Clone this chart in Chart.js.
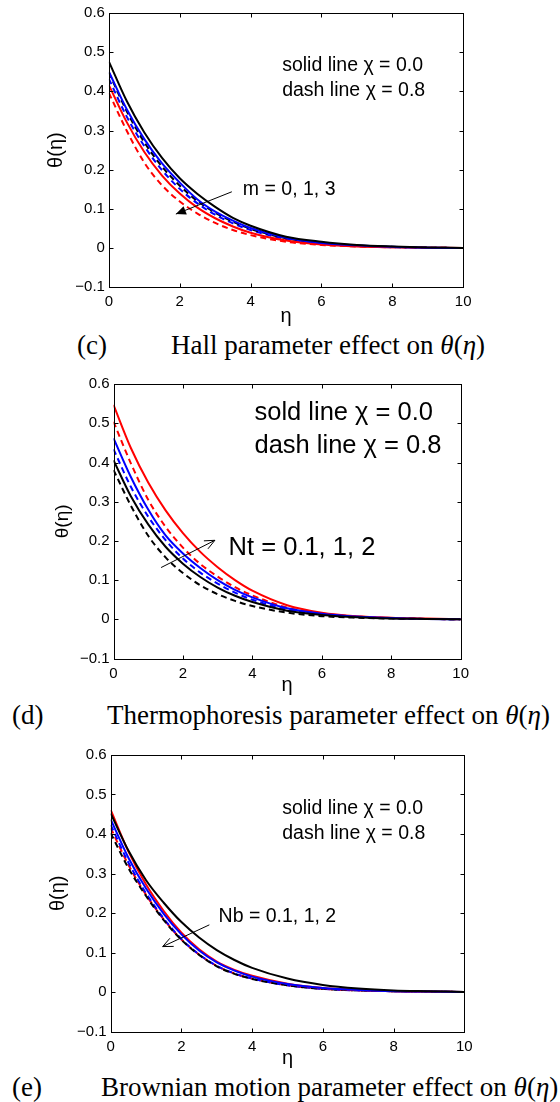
<!DOCTYPE html>
<html>
<head>
<meta charset="utf-8">
<script src="https://cdn.jsdelivr.net/npm/chart.js@4.4.1/dist/chart.umd.min.js"></script>
<style>
  html, body { margin: 0; padding: 0; background: #fff; }
  #page { position: relative; width: 560px; height: 1102px; overflow: hidden; }
  canvas { position: absolute; left: 0; }
  .cap { position: absolute; font-family: "Liberation Serif", "Times New Roman", serif; font-size: 27px; line-height: 30px; white-space: nowrap; color: #000; }
</style>
</head>
<body>
<div id="page">
  <canvas id="chartC" width="560" height="330" style="top:0px"></canvas>
  <canvas id="chartD" width="560" height="330" style="top:370px"></canvas>
  <canvas id="chartE" width="560" height="330" style="top:740px"></canvas>

  <div class="cap" style="left:77px; top:330px">(c)</div>
  <div class="cap" style="left:171px; top:330px">Hall parameter effect on <i>θ</i>(<i>η</i>)</div>
  <div class="cap" style="left:12px; top:700px">(d)</div>
  <div class="cap" style="left:107px; top:700px">Thermophoresis parameter effect on <i>θ</i>(<i>η</i>)</div>
  <div class="cap" style="left:12px; top:1072px">(e)</div>
  <div class="cap" style="left:101px; top:1072px">Brownian motion parameter effect on <i>θ</i>(<i>η</i>)</div>
</div>

<script>
// abscisse commune (eta)
const eta = [0, 0.5, 1, 1.5, 2, 2.5, 3, 3.5, 4, 5, 6, 7, 8, 9, 10];

const xTickLabels = ['0', '2', '4', '6', '8', '10'];
const yTickLabels = ['\u22120.1', '0', '0.1', '0.2', '0.3', '0.4', '0.5', '0.6'];

// (c) parametre de Hall, m = 0, 1, 3
const hallBlackSolid = [0.476, 0.376, 0.295, 0.230, 0.178, 0.138, 0.105, 0.077, 0.057, 0.029, 0.016, 0.008, 0.004, 0.0015, 0];
const hallBlueSolid  = [0.450, 0.355, 0.278, 0.216, 0.167, 0.124, 0.093, 0.070, 0.051, 0.026, 0.013, 0.007, 0.003, 0.001, 0];
const hallRedSolid   = [0.416, 0.322, 0.245, 0.185, 0.139, 0.103, 0.076, 0.055, 0.039, 0.019, 0.009, 0.004, 0.002, 0.001, 0];
const hallBlackDash  = [0.448, 0.350, 0.270, 0.208, 0.159, 0.120, 0.090, 0.067, 0.049, 0.025, 0.013, 0.006, 0.003, 0.001, 0];
const hallBlueDash   = [0.432, 0.336, 0.260, 0.199, 0.151, 0.114, 0.085, 0.063, 0.046, 0.023, 0.012, 0.006, 0.002, 0.001, 0];
const hallRedDash    = [0.396, 0.300, 0.218, 0.160, 0.119, 0.088, 0.064, 0.046, 0.033, 0.016, 0.008, 0.004, 0.002, 0.001, 0];

// (d) thermophorese, Nt = 0.1, 1, 2
const thermoBlackSolid = [0.406, 0.314, 0.242, 0.185, 0.142, 0.108, 0.081, 0.060, 0.044, 0.022, 0.011, 0.005, 0.002, 0.001, 0];
const thermoBlueSolid  = [0.462, 0.363, 0.280, 0.214, 0.168, 0.131, 0.100, 0.075, 0.056, 0.028, 0.014, 0.007, 0.003, 0.001, 0];
const thermoRedSolid   = [0.547, 0.437, 0.349, 0.278, 0.220, 0.172, 0.133, 0.100, 0.073, 0.036, 0.017, 0.008, 0.004, 0.002, 0];
const thermoBlackDash  = [0.381, 0.290, 0.213, 0.158, 0.118, 0.087, 0.064, 0.047, 0.034, 0.017, 0.008, 0.004, 0.002, 0.001, 0];
const thermoBlueDash   = [0.434, 0.338, 0.262, 0.202, 0.155, 0.119, 0.091, 0.068, 0.050, 0.025, 0.012, 0.006, 0.003, 0.001, 0];
const thermoRedDash    = [0.504, 0.398, 0.305, 0.236, 0.183, 0.141, 0.109, 0.082, 0.061, 0.030, 0.015, 0.007, 0.003, 0.001, 0];

// (e) mouvement brownien, Nb = 0.1, 1, 2
const brownBlackSolid = [0.452, 0.358, 0.283, 0.226, 0.177, 0.138, 0.106, 0.081, 0.061, 0.034, 0.018, 0.009, 0.004, 0.002, 0];
const brownBlueSolid  = [0.437, 0.340, 0.262, 0.198, 0.146, 0.105, 0.075, 0.054, 0.039, 0.020, 0.010, 0.005, 0.002, 0.001, 0];
const brownRedSolid   = [0.461, 0.356, 0.272, 0.205, 0.150, 0.108, 0.077, 0.056, 0.041, 0.021, 0.010, 0.005, 0.002, 0.001, 0];
const brownBlackDash  = [0.402, 0.314, 0.243, 0.182, 0.132, 0.094, 0.065, 0.046, 0.033, 0.017, 0.008, 0.004, 0.002, 0.001, 0];
const brownBlueDash   = [0.423, 0.328, 0.250, 0.186, 0.134, 0.095, 0.066, 0.047, 0.034, 0.017, 0.008, 0.004, 0.002, 0.001, 0];
const brownRedDash    = [0.415, 0.322, 0.246, 0.184, 0.133, 0.095, 0.066, 0.047, 0.034, 0.017, 0.008, 0.004, 0.002, 0.001, 0];

const SANS = '"Liberation Sans", Arial, sans-serif';

// cadre, graduations internes, titres d'axes, annotations et fleches
const overlayPlugin = {
  id: 'overlay',
  afterDatasetsDraw(chart, args, opts) {
    const { ctx, chartArea: a, scales: { x, y } } = chart;
    ctx.save();
    ctx.strokeStyle = '#000';
    ctx.fillStyle = '#000';
    ctx.lineWidth = 1;
    ctx.setLineDash([]);

    const L = Math.round(a.left) + 0.5, R = Math.round(a.right) + 0.5;
    const T = Math.round(a.top) + 0.5, B = Math.round(a.bottom) + 0.5;
    ctx.strokeRect(L, T, R - L, B - T);

    const tl = 4;
    ctx.beginPath();
    x.ticks.forEach(t => {
      const px = Math.round(x.getPixelForValue(t.value)) + 0.5;
      ctx.moveTo(px, B); ctx.lineTo(px, B - tl);
      ctx.moveTo(px, T); ctx.lineTo(px, T + tl);
    });
    y.ticks.forEach(t => {
      const py = Math.round(y.getPixelForValue(t.value)) + 0.5;
      ctx.moveTo(L, py); ctx.lineTo(L + tl, py);
      ctx.moveTo(R, py); ctx.lineTo(R - tl, py);
    });
    ctx.stroke();

    // titres d'axes
    ctx.font = `20px ${SANS}`;
    ctx.textAlign = 'center';
    ctx.textBaseline = 'middle';
    ctx.fillText('η', (a.left + a.right) / 2, a.bottom + opts.xTitleGap);
    ctx.save();
    ctx.translate(a.left - opts.yTitleGap, (a.top + a.bottom) / 2);
    ctx.rotate(-Math.PI / 2);
    ctx.font = `${opts.yTitleSize}px ${SANS}`;
    ctx.fillText('θ(η)', 0, 0);
    ctx.restore();

    // annotations
    ctx.font = `${opts.noteSize}px ${SANS}`;
    ctx.textAlign = 'left';
    opts.notes.forEach(n => {
      ctx.fillText(n.text, x.getPixelForValue(n.x), y.getPixelForValue(n.y));
    });

    // fleche
    const ar = opts.arrow;
    const x0 = x.getPixelForValue(ar.from[0]), y0 = y.getPixelForValue(ar.from[1]);
    const x1 = x.getPixelForValue(ar.to[0]), y1 = y.getPixelForValue(ar.to[1]);
    const ang = Math.atan2(y1 - y0, x1 - x0);
    const hl = 11, hw = 0.42;
    ctx.beginPath();
    ctx.moveTo(x0, y0); ctx.lineTo(x1, y1);
    ctx.stroke();
    const hx1 = x1 - hl * Math.cos(ang - hw), hy1 = y1 - hl * Math.sin(ang - hw);
    const hx2 = x1 - hl * Math.cos(ang + hw), hy2 = y1 - hl * Math.sin(ang + hw);
    ctx.beginPath();
    if (ar.filled) {
      ctx.moveTo(x1, y1); ctx.lineTo(hx1, hy1); ctx.lineTo(hx2, hy2); ctx.closePath();
      ctx.fill();
    } else {
      ctx.moveTo(hx1, hy1); ctx.lineTo(x1, y1); ctx.lineTo(hx2, hy2);
      ctx.stroke();
    }
    ctx.restore();
  }
};

function series(values, color, dash) {
  return {
    data: eta.map((e, i) => ({ x: e, y: values[i] })),
    borderColor: color,
    borderWidth: 2,
    borderDash: dash ? [6, 4] : [],
    pointRadius: 0,
    cubicInterpolationMode: 'monotone',
    fill: false
  };
}

function makeChart(id, datasets, padding, overlay) {
  const tickFont = { family: SANS, size: 15 };
  return new Chart(document.getElementById(id), {
    type: 'line',
    data: { datasets },
    options: {
      responsive: false,
      animation: false,
      events: [],
      layout: { padding },
      plugins: { legend: { display: false }, tooltip: { enabled: false }, overlay },
      scales: {
        x: {
          type: 'linear', min: 0, max: 10,
          ticks: { stepSize: 2, autoSkip: false, maxRotation: 0, color: '#000', font: tickFont, padding: 6,
                   callback: (v, i) => xTickLabels[i] },
          grid: { display: false, drawTicks: false },
          border: { display: false },
          afterFit(s) { s.height = 30; }
        },
        y: {
          type: 'linear', min: -0.1, max: 0.6,
          ticks: { stepSize: 0.1, autoSkip: false, color: '#000', font: tickFont, padding: 4,
                   callback: (v, i) => yTickLabels[i] },
          grid: { display: false, drawTicks: false },
          border: { display: false },
          afterFit(s) { s.width = 50; }
        }
      }
    },
    plugins: [overlayPlugin]
  });
}

makeChart('chartC', [
  series(hallBlackSolid, '#000000', false),
  series(hallBlueSolid, '#0000ff', false),
  series(hallRedSolid, '#ff0000', false),
  series(hallBlackDash, '#000000', true),
  series(hallBlueDash, '#0000ff', true),
  series(hallRedDash, '#ff0000', true)
], { left: 58.9, right: 96.8, top: 12.8, bottom: 12.8 }, {
  xTitleGap: 29.5, yTitleGap: 52, yTitleSize: 20, noteSize: 19.5,
  notes: [
    { text: 'solid line χ = 0.0', x: 4.89, y: 0.465 },
    { text: 'dash line χ = 0.8', x: 4.89, y: 0.401 },
    { text: 'm = 0, 1, 3', x: 3.78, y: 0.148 }
  ],
  arrow: { from: [3.47, 0.1436], to: [1.89, 0.0867], filled: true }
});

makeChart('chartD', [
  series(thermoBlackSolid, '#000000', false),
  series(thermoBlueSolid, '#0000ff', false),
  series(thermoRedSolid, '#ff0000', false),
  series(thermoBlackDash, '#000000', true),
  series(thermoBlueDash, '#0000ff', true),
  series(thermoRedDash, '#ff0000', true)
], { left: 63.5, right: 99.3, top: 14.1, bottom: 11.5 }, {
  xTitleGap: 26.5, yTitleGap: 51, yTitleSize: 19, noteSize: 25.5,
  notes: [
    { text: 'sold line χ = 0.0', x: 4.06, y: 0.5255 },
    { text: 'dash line χ = 0.8', x: 4.06, y: 0.442 },
    { text: 'Nt = 0.1, 1, 2', x: 3.315, y: 0.181 }
  ],
  arrow: { from: [1.37, 0.132], to: [2.92, 0.2015], filled: false }
});

makeChart('chartE', [
  series(brownBlackSolid, '#000000', false),
  series(brownBlueSolid, '#0000ff', false),
  series(brownRedSolid, '#ff0000', false),
  series(brownBlackDash, '#000000', true),
  series(brownBlueDash, '#0000ff', true),
  series(brownRedDash, '#ff0000', true)
], { left: 60.7, right: 95.7, top: 15, bottom: 8.5 }, {
  xTitleGap: 26.8, yTitleGap: 52, yTitleSize: 20, noteSize: 19.5,
  notes: [
    { text: 'solid line χ = 0.0', x: 4.85, y: 0.465 },
    { text: 'dash line χ = 0.8', x: 4.85, y: 0.402 },
    { text: 'Nb = 0.1, 1, 2', x: 3.05, y: 0.192 }
  ],
  arrow: { from: [2.79, 0.170], to: [1.47, 0.115], filled: false }
});
</script>
</body>
</html>
